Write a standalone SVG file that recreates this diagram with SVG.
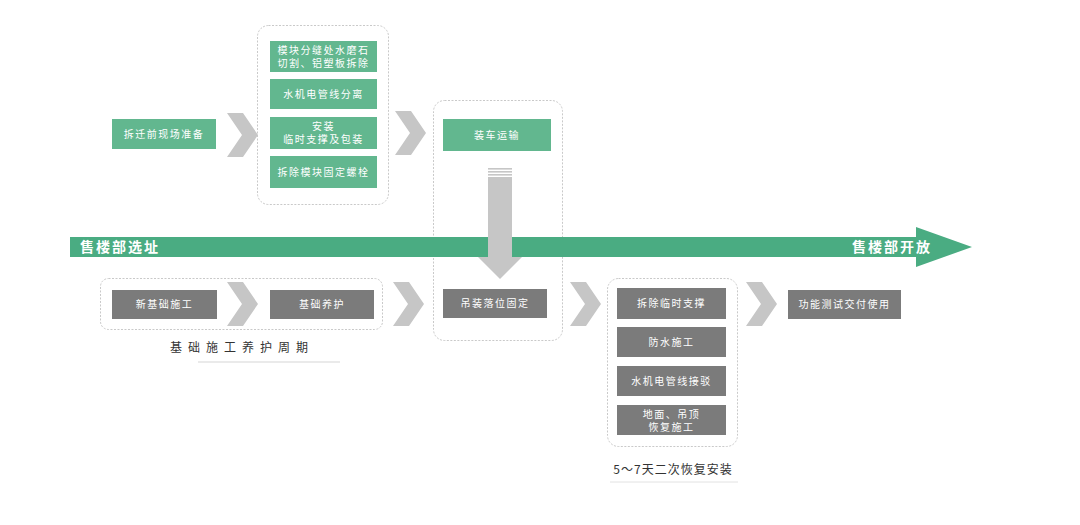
<svg xmlns="http://www.w3.org/2000/svg" xmlns:xlink="http://www.w3.org/1999/xlink" width="1080" height="525" viewBox="0 0 1080 525">
<style>
.g{fill:#62b78f}
.d{fill:#7b7b7b}
.t{font-family:"Noto Sans CJK SC","Noto Sans",sans-serif;font-size:10px;fill:#ffffff;text-anchor:middle;letter-spacing:1.5px}
.c{fill:none;stroke:#c9c9c9;stroke-width:1;stroke-dasharray:2 1.5}
.chev{fill:#c6c6c6}
.lbl{font-family:"Noto Sans CJK SC","Noto Sans",sans-serif;font-size:12px;fill:#333;text-anchor:middle;letter-spacing:6px}
.bar{font-family:"Noto Sans CJK SC","Noto Sans",sans-serif;font-size:14px;font-weight:bold;fill:#fff;letter-spacing:2px}
</style>
<defs>
<path id="chev" d="M0,0 h16 l15,22 l-15,22 h-16 l15,-22 z"/>
</defs>
<rect width="1080" height="525" fill="#fff"/>

<g id="containers">
<rect class="c" x="257.5" y="25.5" width="131" height="179" rx="11"/>
<rect class="c" x="433.5" y="100.5" width="129" height="240" rx="11"/>
<rect class="c" x="100.5" y="278.5" width="282" height="51" rx="8"/>
<rect class="c" x="607.5" y="278.5" width="130" height="168" rx="11"/>
</g>

<g id="main-arrow">
<polygon points="70,237 916,237 916,227 972,247 916,267 916,257 70,257" fill="#4aac82"/>
<text class="bar" x="80" y="252">售楼部选址</text>
<text class="bar" x="852" y="252">售楼部开放</text>
</g>

<g id="connectors">
<use xlink:href="#chev" class="chev" transform="translate(227,113)"/>
<use xlink:href="#chev" class="chev" transform="translate(395,111)"/>
<use xlink:href="#chev" class="chev" transform="translate(227,282)"/>
<use xlink:href="#chev" class="chev" transform="translate(393,282)"/>
<use xlink:href="#chev" class="chev" transform="translate(570,282)"/>
<use xlink:href="#chev" class="chev" transform="translate(746,282)"/>
<g id="down-arrow" fill="#c6c6c6">
<rect x="488" y="168" width="24" height="1.6"/>
<rect x="488" y="171" width="24" height="1.6"/>
<rect x="488" y="174" width="24" height="1.6"/>
<rect x="488" y="177" width="24" height="80"/>
<polygon points="478,257 522,257 500,279"/>
</g>
</g>

<g id="n1"><rect class="g" x="112" y="119" width="104" height="30"/><text class="t" x="164" y="138">拆迁前现场准备</text></g>
<g id="n2"><rect class="g" x="270" y="41" width="107" height="31"/><text class="t" x="323.5" y="54">模块分缝处水磨石</text><text class="t" x="323.5" y="67">切割、铝塑板拆除</text></g>
<g id="n3"><rect class="g" x="270" y="79" width="107" height="30"/><text class="t" x="323.5" y="98">水机电管线分离</text></g>
<g id="n4"><rect class="g" x="270" y="117" width="107" height="32"/><text class="t" x="323.5" y="130">安装</text><text class="t" x="323.5" y="143">临时支撑及包装</text></g>
<g id="n5"><rect class="g" x="270" y="156" width="107" height="32"/><text class="t" x="323.5" y="176">拆除模块固定螺栓</text></g>
<g id="n6"><rect class="g" x="443" y="119" width="108" height="32"/><text class="t" x="497" y="139">装车运输</text></g>
<g id="n7"><rect class="d" x="443" y="289" width="104" height="29"/><text class="t" x="495" y="307">吊装落位固定</text></g>
<g id="n8"><rect class="d" x="112" y="290" width="105" height="29"/><text class="t" x="164.5" y="308">新基础施工</text></g>
<g id="n9"><rect class="d" x="270" y="290" width="104" height="29"/><text class="t" x="322" y="308">基础养护</text></g>
<g id="n10"><rect class="d" x="617" y="288" width="109" height="31"/><text class="t" x="671.5" y="307">拆除临时支撑</text></g>
<g id="n11"><rect class="d" x="617" y="327" width="109" height="30"/><text class="t" x="671.5" y="346">防水施工</text></g>
<g id="n12"><rect class="d" x="617" y="366" width="109" height="30"/><text class="t" x="671.5" y="385">水机电管线接驳</text></g>
<g id="n13"><rect class="d" x="617" y="405" width="109" height="30"/><text class="t" x="671.5" y="418">地面、吊顶</text><text class="t" x="671.5" y="431">恢复施工</text></g>
<g id="n14"><rect class="d" x="788" y="290" width="113" height="29"/><text class="t" x="844.5" y="308">功能测试交付使用</text></g>

<g id="label1"><text class="lbl" x="242" y="352">基础施工养护周期</text><line x1="198" y1="362" x2="340" y2="362" stroke="#d5d5d5" stroke-width="1"/></g>
<g id="label2"><text class="lbl" x="673" y="474" style="letter-spacing:1px">5～7天二次恢复安装</text><line x1="610" y1="482" x2="738" y2="482" stroke="#e2e2e2" stroke-width="1"/></g>
</svg>
